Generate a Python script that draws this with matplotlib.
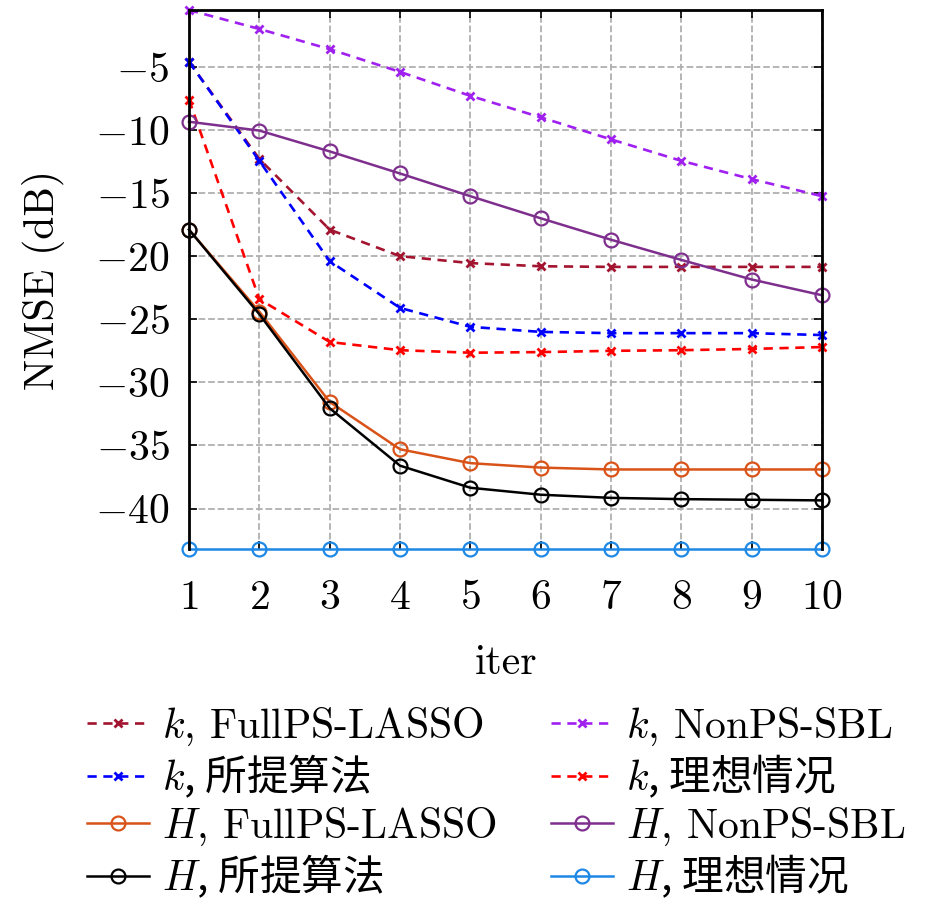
import matplotlib
matplotlib.use('Agg')
import matplotlib.pyplot as plt

plt.rcParams['font.family'] = ['cmr10', 'Noto Sans CJK SC', 'DejaVu Sans']
plt.rcParams['mathtext.fontset'] = 'cm'
plt.rcParams['axes.formatter.use_mathtext'] = True
plt.rcParams['axes.unicode_minus'] = True

iters = [1, 2, 3, 4, 5, 6, 7, 8, 9, 10]

# NMSE (dB)
k_fullps = [-4.6, -12.3, -17.9, -20.0, -20.55, -20.8, -20.85, -20.85, -20.85, -20.85]
k_nonps = [-0.5, -2.0, -3.6, -5.4, -7.3, -9.0, -10.75, -12.45, -13.9, -15.25]
k_prop = [-4.6, -12.45, -20.4, -24.1, -25.6, -26.0, -26.1, -26.1, -26.1, -26.25]
k_ideal = [-7.6, -23.4, -26.8, -27.45, -27.65, -27.6, -27.5, -27.45, -27.35, -27.2]
H_fullps = [-17.9, -24.4, -31.55, -35.3, -36.4, -36.75, -36.9, -36.9, -36.9, -36.9]
H_nonps = [-9.35, -10.05, -11.7, -13.45, -15.25, -17.0, -18.7, -20.3, -21.85, -23.1]
H_prop = [-17.9, -24.6, -32.05, -36.6, -38.35, -38.9, -39.15, -39.25, -39.3, -39.35]
H_ideal = [-43.2] * 10

fig = plt.figure(figsize=(9.45, 9.13), dpi=100)
ax = fig.add_axes([0.2, 0.3987, 0.67, 0.5903])

kw_k = dict(linestyle='--', marker='x', markersize=6, markeredgewidth=2, linewidth=1.9,
            dashes=(3.5, 2.5), clip_on=False)
kw_H = dict(linestyle='-', marker='o', markersize=10, markerfacecolor='none', markeredgewidth=1.6,
            linewidth=1.8, clip_on=False)

l1, = ax.plot(iters, k_fullps, color='#A2142F', label=r'$k$, FullPS-LASSO', **kw_k)
l2, = ax.plot(iters, k_nonps, color='#A020F0', label=r'$k$, NonPS-SBL', **kw_k)
l3, = ax.plot(iters, k_prop, color='#0000FF', label=r'$k$, 所提算法', **kw_k)
l4, = ax.plot(iters, k_ideal, color='#FF0000', label=r'$k$, 理想情况', **kw_k)
l5, = ax.plot(iters, H_fullps, color='#D95319', label=r'$H$, FullPS-LASSO', **kw_H)
l6, = ax.plot(iters, H_nonps, color='#7E2F8E', label=r'$H$, NonPS-SBL', **kw_H)
l7, = ax.plot(iters, H_prop, color='black', label=r'$H$, 所提算法', **kw_H)
l8, = ax.plot(iters, H_ideal, color='#1E88E5', label=r'$H$, 理想情况', **kw_H)

ax.set_xlim(1, 10)
ax.set_ylim(-43.2, -0.5)
ax.set_xticks(iters)
ax.set_yticks([-40, -35, -30, -25, -20, -15, -10, -5])
ax.tick_params(direction='in', length=6, width=1.2, labelsize=30, top=True, right=True)
ax.tick_params(axis='x', pad=22)
ax.tick_params(axis='y', pad=14)
ax.grid(True, color='#b0b0b0', linestyle='--', linewidth=1.3)
for s in ax.spines.values():
    s.set_linewidth(2)
ax.spines['bottom'].set_visible(False)

ax.set_xlabel('iter', fontsize=30, labelpad=20)
ax.set_ylabel('NMSE (dB)', fontsize=30, labelpad=22)

handles = [l1, l3, l5, l7, l2, l4, l6, l8]
leg = fig.legend(handles=handles, labels=[h.get_label() for h in handles], ncol=2,
                 loc='upper left', bbox_to_anchor=(0.07, 0.25), frameon=False,
                 fontsize=30, handlelength=1.5, handletextpad=0.3, columnspacing=1.3,
                 labelspacing=0.12, borderpad=0)
for t in leg.get_texts():
    if any(ord(c) > 0x3000 for c in t.get_text()):
        t.set_fontfamily('Noto Sans CJK SC')

fig.savefig('out.png', dpi=100)
